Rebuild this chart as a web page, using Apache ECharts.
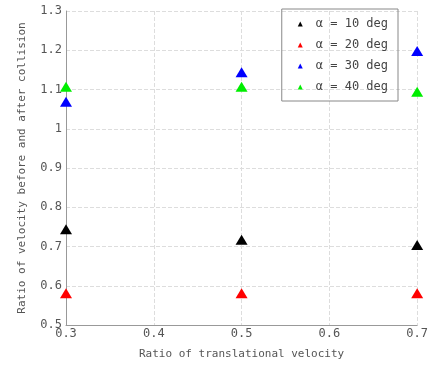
<!DOCTYPE html>
<html>
<head>
<meta charset="utf-8">
<script src="https://cdn.jsdelivr.net/npm/echarts@6/dist/echarts.min.js"></script>
<style>
  html, body { margin: 0; padding: 0; background: #fff; }
  #chart { width: 431px; height: 374px; }
</style>
</head>
<body>
<div id="chart"></div>
<script>
// translational velocity ratio
const ratioX = [0.3, 0.5, 0.7];
const deg10 = [0.744, 0.717, 0.704];
const deg20 = [0.581, 0.581, 0.581];
const deg30 = [1.069, 1.144, 1.198];
const deg40 = [1.107, 1.107, 1.094];
const seriesNames = ['α = 10 deg', 'α = 20 deg', 'α = 30 deg', 'α = 40 deg'];
const seriesColors = ['#000000', '#ff0000', '#0000ff', '#00ee00'];

const font = 'DejaVu Sans Mono';
const textColor = '#555';

function pairs(ys) {
  return ratioX.map((x, i) => [x, ys[i]]);
}

const chart = echarts.init(document.getElementById('chart'));
let option = {
  animation: false,
  textStyle: { fontFamily: font },
  grid: { left: 66, right: 11, top: 11, bottom: 49 },
  legend: {
    orient: 'vertical',
    right: 33,
    top: 9,
    padding: [9, 10, 8, 16],
    itemGap: 9,
    itemWidth: 5,
    itemHeight: 5,
    icon: 'triangle',
    borderColor: '#888',
    borderWidth: 1,
    textStyle: { fontFamily: font, fontSize: 12, color: '#444', padding: [0, 0, 0, 8] },
    data: seriesNames
  },
  xAxis: {
    type: 'value',
    min: 0.3,
    max: 0.7,
    interval: 0.1,
    name: 'Ratio of translational velocity',
    nameLocation: 'middle',
    nameGap: 24,
    nameTextStyle: { fontFamily: font, fontSize: 11, color: textColor },
    axisLine: { lineStyle: { color: '#999' } },
    axisTick: { show: false },
    axisLabel: { fontFamily: font, fontSize: 12, color: textColor, margin: 3 },
    splitLine: { show: true, lineStyle: { color: '#ddd', type: 'dashed' } }
  },
  yAxis: {
    type: 'value',
    min: 0.5,
    max: 1.3,
    interval: 0.1,
    name: 'Ratio of velocity before and after collision',
    nameLocation: 'middle',
    nameGap: 38,
    nameTextStyle: { fontFamily: font, fontSize: 11, color: textColor },
    axisLine: { show: true, lineStyle: { color: '#999' } },
    axisTick: { show: false },
    axisLabel: {
      fontFamily: font, fontSize: 12, color: textColor, margin: 4,
      formatter: v => String(Math.round(v * 10) / 10)
    },
    splitLine: { show: true, lineStyle: { color: '#ddd', type: 'dashed' } }
  },
  series: [deg10, deg20, deg30, deg40].map((ys, i) => ({
    name: seriesNames[i],
    type: 'scatter',
    symbol: 'triangle',
    symbolSize: [12, 10],
    itemStyle: { color: seriesColors[i], opacity: 1 },
    data: pairs(ys)
  }))
};
option && chart.setOption(option);
</script>
</body>
</html>
